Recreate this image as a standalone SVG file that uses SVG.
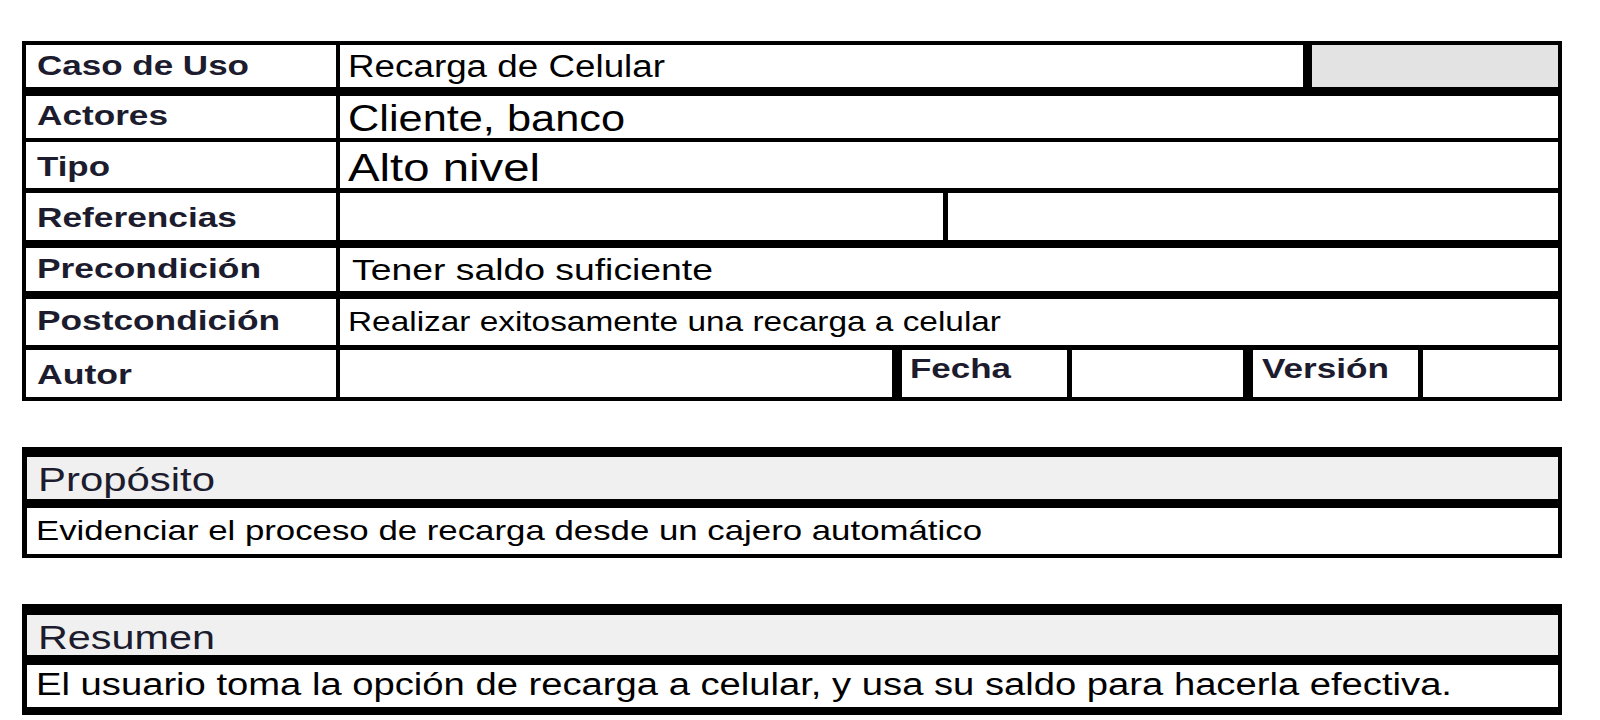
<svg xmlns="http://www.w3.org/2000/svg" width="1600" height="720" viewBox="0 0 1600 720">
<style>
.frame{fill:#000}
.cell{fill:#fff}
.gray{fill:#e3e3e3}
.hdr{fill:#f0f0f0}
.lbl{font-family:"Liberation Sans",Arial,sans-serif;font-weight:bold;font-size:28px;fill:#1c1c2e}
.val{font-family:"Liberation Sans",Arial,sans-serif;fill:#000}
.sec{font-family:"Liberation Sans",Arial,sans-serif;font-size:33px;fill:#1c1c2e}
</style>
<rect width="1600" height="720" fill="#fff"/>
<g id="tabla-caso-uso">
  <rect class="frame" x="22" y="41" width="1540" height="360"/>
  <g id="fila-caso-uso">
    <rect class="cell" x="26" y="45" width="310" height="42"/>
    <rect class="cell" x="340" y="45" width="963" height="42"/>
    <rect class="gray" x="1312" y="45" width="246" height="42"/>
    <text class="lbl" x="37" y="75" textLength="212" lengthAdjust="spacingAndGlyphs">Caso de Uso</text>
    <text class="val" x="348" y="77" font-size="31" textLength="317" lengthAdjust="spacingAndGlyphs">Recarga de Celular</text>
  </g>
  <g id="fila-actores">
    <rect class="cell" x="26" y="96" width="310" height="42"/>
    <rect class="cell" x="340" y="96" width="1218" height="42"/>
    <text class="lbl" x="37" y="125" textLength="131" lengthAdjust="spacingAndGlyphs">Actores</text>
    <text class="val" x="348" y="131" font-size="36" textLength="277" lengthAdjust="spacingAndGlyphs">Cliente, banco</text>
  </g>
  <g id="fila-tipo">
    <rect class="cell" x="26" y="142" width="310" height="46"/>
    <rect class="cell" x="340" y="142" width="1218" height="46"/>
    <text class="lbl" x="37" y="176" textLength="73" lengthAdjust="spacingAndGlyphs">Tipo</text>
    <text class="val" x="348" y="181" font-size="38" textLength="192" lengthAdjust="spacingAndGlyphs">Alto nivel</text>
  </g>
  <g id="fila-referencias">
    <rect class="cell" x="26" y="193" width="310" height="47"/>
    <rect class="cell" x="340" y="193" width="603" height="47"/>
    <rect class="cell" x="948" y="193" width="610" height="47"/>
    <text class="lbl" x="37" y="227" textLength="200" lengthAdjust="spacingAndGlyphs">Referencias</text>
  </g>
  <g id="fila-precondicion">
    <rect class="cell" x="26" y="248" width="310" height="43"/>
    <rect class="cell" x="340" y="248" width="1218" height="43"/>
    <text class="lbl" x="37" y="278" textLength="224" lengthAdjust="spacingAndGlyphs">Precondición</text>
    <text class="val" x="352" y="280" font-size="29.5" textLength="361" lengthAdjust="spacingAndGlyphs">Tener saldo suficiente</text>
  </g>
  <g id="fila-postcondicion">
    <rect class="cell" x="26" y="299" width="310" height="46"/>
    <rect class="cell" x="340" y="299" width="1218" height="46"/>
    <text class="lbl" x="37" y="330" textLength="243" lengthAdjust="spacingAndGlyphs">Postcondición</text>
    <text class="val" x="348" y="331" font-size="28" textLength="653" lengthAdjust="spacingAndGlyphs">Realizar exitosamente una recarga a celular</text>
  </g>
  <g id="fila-autor">
    <rect class="cell" x="26" y="350" width="310" height="47"/>
    <rect class="cell" x="340" y="350" width="552" height="47"/>
    <rect class="cell" x="902" y="350" width="165" height="47"/>
    <rect class="cell" x="1072" y="350" width="171" height="47"/>
    <rect class="cell" x="1253" y="350" width="165" height="47"/>
    <rect class="cell" x="1423" y="350" width="135" height="47"/>
    <text class="lbl" x="37" y="384" textLength="95" lengthAdjust="spacingAndGlyphs">Autor</text>
    <text class="lbl" x="910" y="378" textLength="101" lengthAdjust="spacingAndGlyphs">Fecha</text>
    <text class="lbl" x="1262" y="378" textLength="127" lengthAdjust="spacingAndGlyphs">Versión</text>
  </g>
</g>
<g id="proposito">
  <rect class="frame" x="22" y="447" width="1540" height="111"/>
  <rect class="hdr" x="27" y="457" width="1531" height="42"/>
  <rect class="cell" x="27" y="508" width="1531" height="46"/>
  <text class="sec" x="38" y="491" textLength="177" lengthAdjust="spacingAndGlyphs">Propósito</text>
  <text class="val" x="36" y="540" font-size="28.5" textLength="946" lengthAdjust="spacingAndGlyphs">Evidenciar el proceso de recarga desde un cajero automático</text>
</g>
<g id="resumen">
  <rect class="frame" x="22" y="604" width="1540" height="111"/>
  <rect class="hdr" x="27" y="615" width="1531" height="40"/>
  <rect class="cell" x="27" y="665" width="1531" height="42"/>
  <text class="sec" x="38" y="649" textLength="177" lengthAdjust="spacingAndGlyphs">Resumen</text>
  <text class="val" x="36" y="695" font-size="31" textLength="1416" lengthAdjust="spacingAndGlyphs">El usuario toma la opción de recarga a celular, y usa su saldo para hacerla efectiva.</text>
</g>
</svg>
